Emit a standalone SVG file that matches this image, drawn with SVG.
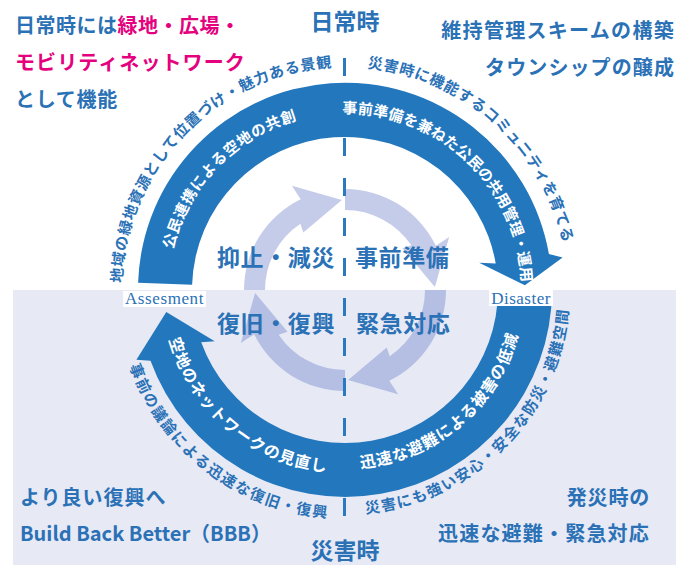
<svg xmlns="http://www.w3.org/2000/svg" width="691" height="565" viewBox="0 0 691 565">
<style>
.jp{font-family:"Noto Sans CJK JP","Noto Sans",sans-serif;font-weight:700}
.blue{fill:#2a71b6}
.mag{fill:#e5007e}
.h20{font-size:20px}
.h23{font-size:23px}
.ctr{font-size:23px;fill:#2a71b6}
.o15{font-size:15px;fill:#2a71b6}
.b15{font-size:15px;fill:#ffffff}
.b16{font-size:16px;fill:#ffffff}
.band{fill:#2377bd}
.inTop{fill:#c5cce9}
.inBot{fill:#b4bfe3}
.lblbox{fill:#ffffff}
.lbl{font-family:"Liberation Serif",serif;font-size:17px;fill:#2a71b6}
</style>
<defs>
<path id="tOut" d="M122,290 A223,223 0 0 1 568,290"/>
<path id="tBand" d="M168.5,290 A176.5,176.5 0 0 1 521.5,290"/>
<path id="bBandR" d="M166,290 A179,179 0 0 0 524,290"/>
<path id="bBandL" d="M162,290 A183,183 0 0 0 528,290"/>
<path id="bOutR" d="M120.5,290 A224.5,224.5 0 0 0 569.5,290"/>
<path id="bOutL" d="M116.5,290 A228.5,228.5 0 0 0 573.5,290"/>
<path id="inArrow" d="M244,290 A101,101 0 0 1 300.7,199.2 L291.9,185.8 L341.9,200.1 L303.3,232.6 L300.3,223.7 A80,80 0 0 0 265,290 Z"/>
</defs>

<rect id="disaster-panel" x="13" y="290" width="663" height="275" fill="#e7e9f5"/>

<g id="cycle-inner">
<use href="#inArrow" class="inTop"/>
<use href="#inArrow" class="inTop" transform="rotate(90 345 290)"/>
<use href="#inArrow" class="inBot" transform="rotate(180 345 290)"/>
<use href="#inArrow" class="inBot" transform="rotate(270 345 290)"/>
</g>

<line id="divider" x1="344.5" y1="58" x2="344.5" y2="536" stroke="#2a78be" stroke-width="3" stroke-dasharray="18 22"/>

<g id="connectors">
<path id="arc-normal" class="band" d="M138.1,282.8 A207,207 0 0 1 548.9,254.1 L562.6,257.5 L524.9,285.3 L479.2,262.7 L495.7,263.4 A153,153 0 0 0 192.1,284.7 Z"/>
<path id="arc-disaster" class="band" d="M552,290 A207,207 0 0 1 150.5,360.8 L136.4,359.8 L166.3,311.9 L214.7,341.3 L201.2,342.3 A153,153 0 0 0 498,290 Z"/>
</g>

<g id="arc-texts" class="jp">
<text class="o15" letter-spacing="0.75"><textPath href="#tOut" startOffset="7">地域の緑地資源として位置づけ・魅力ある景観</textPath></text>
<text class="o15" letter-spacing="0.65"><textPath href="#tOut" startOffset="372.5">災害時に機能するコミュニティを育てる</textPath></text>
<text class="b15" letter-spacing="0.73"><textPath href="#tBand" startOffset="40.7">公民連携による空地の共創</textPath></text>
<text class="b15" letter-spacing="0.1"><textPath href="#tBand" startOffset="274.5">事前準備を兼ねた公民の共用管理・運用</textPath></text>
<text class="b16" letter-spacing="0.97"><textPath href="#bBandR" startOffset="296.8">迅速な避難による被害の低減</textPath></text>
<text class="b16" letter-spacing="0.82"><textPath href="#bBandL" startOffset="50.1">空地のネットワークの見直し</textPath></text>
<text class="o15" letter-spacing="1.44"><textPath href="#bOutR" startOffset="373.4">災害にも強い安心・安全な防災・避難空間</textPath></text>
<text class="o15" letter-spacing="1.55"><textPath href="#bOutL" startOffset="77.4">事前の議論による迅速な復旧・復興</textPath></text>
</g>

<g id="node-assesment">
<rect class="lblbox" x="123" y="291" width="83" height="16"/>
<text class="lbl" x="164.5" y="304" text-anchor="middle" letter-spacing="0.6">Assesment</text>
</g>
<g id="node-disaster">
<rect class="lblbox" x="489" y="290" width="64" height="16"/>
<text class="lbl" x="521" y="303.5" text-anchor="middle" letter-spacing="0.5">Disaster</text>
</g>

<g id="node-center" class="jp">
<text class="ctr" x="217" y="266" letter-spacing="0.6">抑止・減災</text>
<text class="ctr" x="355" y="266" letter-spacing="0.6">事前準備</text>
<text class="ctr" x="217" y="332" letter-spacing="0.6">復旧・復興</text>
<text class="ctr" x="356" y="332" letter-spacing="0.6">緊急対応</text>
</g>

<g id="node-normal-title" class="jp">
<text class="h23 blue" x="345" y="30" text-anchor="middle">日常時</text>
</g>
<g id="node-disaster-title" class="jp">
<text class="h23 blue" x="345" y="559" text-anchor="middle">災害時</text>
</g>

<g id="node-top-left" class="jp h20">
<text x="15" y="33" letter-spacing="0.5"><tspan class="blue">日常時には</tspan><tspan class="mag">緑地・広場・</tspan></text>
<text class="mag" x="15" y="70" letter-spacing="1.1">モビリティネットワーク</text>
<text class="blue" x="15" y="107" letter-spacing="0.7">として機能</text>
</g>

<g id="node-top-right" class="jp h20 blue">
<text x="675" y="38" text-anchor="end" letter-spacing="1.3">維持管理スキームの構築</text>
<text x="675" y="75" text-anchor="end" letter-spacing="1.1">タウンシップの醸成</text>
</g>

<g id="node-bottom-left" class="jp h20 blue">
<text x="20" y="505" letter-spacing="1">より良い復興へ</text>
<text x="20" y="541">Build Back Better（BBB）</text>
</g>

<g id="node-bottom-right" class="jp h20 blue">
<text x="650" y="505" text-anchor="end" letter-spacing="0.8">発災時の</text>
<text x="650" y="541" text-anchor="end" letter-spacing="1.2">迅速な避難・緊急対応</text>
</g>
</svg>
